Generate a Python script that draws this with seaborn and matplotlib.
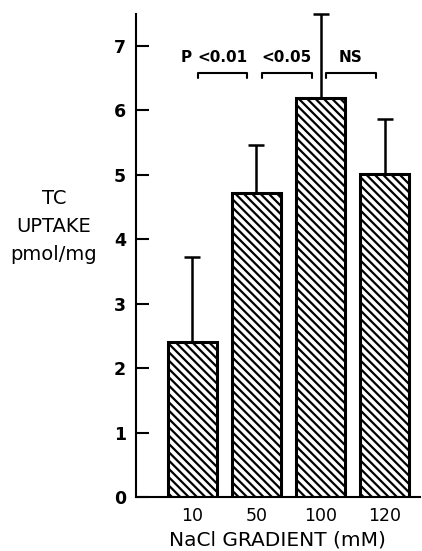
import numpy as np
import pandas as pd
import seaborn as sns
import matplotlib.pyplot as plt

# values
gradients = ['10', '50', '100', '120']
uptake = [2.41, 4.72, 6.2, 5.02]
sem = [1.32, 0.75, 1.3, 0.85]
sig_labels = ['<0.01', '<0.05', 'NS']
yticks = [0, 1, 2, 3, 4, 5, 6, 7]

data = pd.DataFrame({'gradient': gradients, 'uptake': uptake})

sns.set_style('white')
plt.rcParams['font.family'] = ['DejaVu Sans']
plt.rcParams['text.color'] = 'black'
plt.rcParams['hatch.linewidth'] = 1.6

fig = plt.figure(figsize=(4.22, 5.51), dpi=100)
ax = fig.add_axes([0.322, 0.098, 0.673, 0.877])

sns.barplot(x='gradient', y='uptake', data=data, ax=ax, color='white',
            edgecolor='black', linewidth=2.2, width=0.76, errorbar=None)
for bar in ax.patches:
    bar.set_hatch('\\' * 4)

# one sided error bars (upward)
ax.errorbar(range(len(gradients)), uptake, yerr=[np.zeros(len(sem)), sem],
            fmt='none', ecolor='black', elinewidth=1.8, capsize=6, capthick=1.8,
            clip_on=False)

# significance brackets between neighbouring bars
for i, lab in enumerate(sig_labels):
    x0 = i + 0.09
    x1 = i + 0.86
    ax.plot([x0, x0, x1, x1], [6.51, 6.58, 6.58, 6.51], color='black', lw=1.5)
    ax.text((x0 + x1) / 2, 6.82, lab, ha='center', va='center',
            fontsize=11, fontweight='bold')
ax.text(-0.09, 6.82, 'P', ha='center', va='center', fontsize=11, fontweight='bold')

ax.set_xlim(-0.88, 3.55)
ax.set_ylim(0, 7.5)
ax.set_yticks(yticks)
ax.set_yticklabels([str(t) for t in yticks], fontweight='bold', fontsize=12.5)
ax.tick_params(axis='y', direction='in', length=9.4, width=1.5, left=True, pad=7,
               colors='black')
ax.tick_params(axis='x', length=0, pad=7, labelsize=12.5, colors='black')

sns.despine(ax=ax)
for s in ['left', 'bottom']:
    ax.spines[s].set_linewidth(1.5)
    ax.spines[s].set_color('black')

ax.set_xlabel('NaCl GRADIENT (mM)', fontsize=14.5, labelpad=4, color='black')
ax.set_ylabel('TC\nUPTAKE\npmol/mg', rotation=0, fontsize=14, ha='center',
              va='center', linespacing=1.6, color='black')
ax.yaxis.set_label_coords(-0.289, 0.56)

fig.savefig('out.png', dpi=100)
